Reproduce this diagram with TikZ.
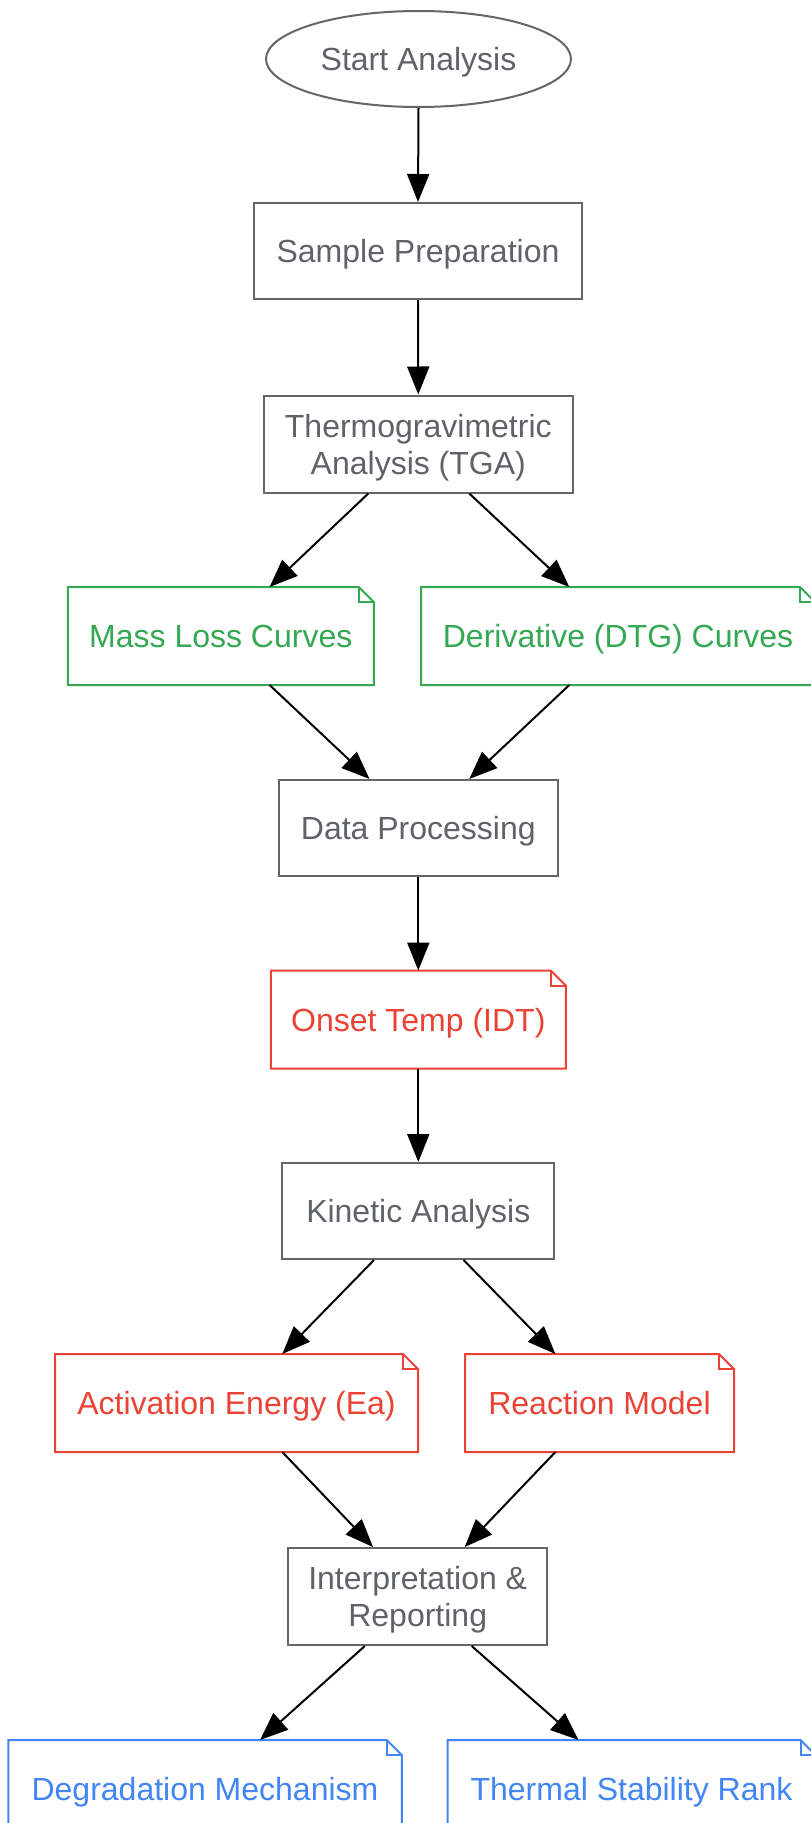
\documentclass[tikz,border=0pt]{standalone}
\usepackage{fontspec}
\setmainfont{Liberation Sans}
\usetikzlibrary{arrows.meta,shapes.geometric}
\definecolor{txtgray}{HTML}{5F6368}
\definecolor{bordergray}{HTML}{666666}
\definecolor{ngreen}{HTML}{34A853}
\definecolor{nred}{HTML}{EA4335}
\definecolor{nblue}{HTML}{4285F4}
\newcommand\notefold[2]{%
  \draw[line width=2pt,#2,line join=miter] (#1.south west) -- (#1.north west) -- ([xshift=-15pt]#1.north east) -- ([yshift=-15pt]#1.north east) -- (#1.south east) -- cycle;
  \draw[line width=2pt,#2] ([xshift=-15pt]#1.north east) -- ([xshift=-15pt,yshift=-15pt]#1.north east) -- ([yshift=-15pt]#1.north east);}
\begin{document}
\begin{tikzpicture}[x=1pt,y=-1pt,
  base/.style={font=\fontsize{32}{37}\selectfont, align=center, inner sep=0pt, line width=2pt, text height=30pt, text depth=7pt},
  two/.style={text height=60pt, text depth=0pt},
  proc/.style={base, draw=bordergray, text=txtgray, rectangle, minimum height=96pt},
  term/.style={base, draw=bordergray, text=txtgray, ellipse, minimum width=305pt, minimum height=96pt},
  notebox/.style={base, rectangle, minimum height=96pt, text=#1},
  link/.style={line width=2pt, black, -{Triangle[length=28pt,width=22pt]}}]
\useasboundingbox (0,0) rectangle (811,1823);
\clip (0,0) rectangle (811,1823);
\fill[white] (0,0) rectangle (811,1823);

\node[term] (start) at (418.5,59) {Start Analysis};
\node[proc, minimum width=328pt] (prep) at (418,251) {Sample Preparation};
\node[proc, two, minimum width=309pt, minimum height=97pt] (tga) at (418.3,444) {Thermogravimetric\\Analysis (TGA)};
\node[notebox=ngreen, minimum width=304pt] (mass) at (220.8,636) {Mass Loss Curves};
\node[notebox=ngreen, minimum width=392pt] (dtg) at (618,636) {Derivative (DTG) Curves};
\node[proc, minimum width=279pt] (dp) at (418.3,828) {Data Processing};
\node[notebox=nred, minimum width=293pt] (onset) at (418.3,1019.5) {Onset Temp (IDT)};
\node[proc, minimum width=272pt] (kin) at (418.3,1211) {Kinetic Analysis};
\node[notebox=nred, minimum width=361pt] (act) at (236.5,1403) {Activation Energy (Ea)};
\node[notebox=nred, minimum width=267pt] (react) at (599.5,1403) {Reaction Model};
\node[proc, two, minimum width=259pt, minimum height=97pt] (interp) at (417.7,1596.5) {Interpretation \&\\Reporting};
\node[notebox=nblue, minimum width=391.5pt] (deg) at (205,1789) {Degradation Mechanism};
\node[notebox=nblue, minimum width=366pt] (rank) at (631.5,1789) {Thermal Stability Rank};

\notefold{mass}{ngreen}
\notefold{dtg}{ngreen}
\notefold{onset}{nred}
\notefold{act}{nred}
\notefold{react}{nred}
\notefold{deg}{nblue}
\notefold{rank}{nblue}

\draw[link] (start.south) -- (prep.north);
\draw[link] (prep.south) -- (tga.north);
\draw[link] ([xshift=-50pt]tga.south) -- ([xshift=48.8pt]mass.north);
\draw[link] ([xshift=51pt]tga.south) -- ([xshift=-48.7pt]dtg.north);
\draw[link] ([xshift=48.8pt]mass.south) -- ([xshift=-48.8pt]dp.north);
\draw[link] ([xshift=-48.7pt]dtg.south) -- ([xshift=51pt]dp.north);
\draw[link] (dp.south) -- (onset.north);
\draw[link] (onset.south) -- (kin.north);
\draw[link] ([xshift=-44.3pt]kin.south) -- ([xshift=45.8pt]act.north);
\draw[link] ([xshift=45.3pt]kin.south) -- ([xshift=-44.1pt]react.north);
\draw[link] ([xshift=45.8pt]act.south) -- ([xshift=-44.7pt]interp.north);
\draw[link] ([xshift=-44.1pt]react.south) -- ([xshift=47pt]interp.north);
\draw[link] ([xshift=-52.9pt]interp.south) -- ([xshift=55pt]deg.north);
\draw[link] ([xshift=54pt]interp.south) -- ([xshift=-53pt]rank.north);
\end{tikzpicture}
\end{document}
